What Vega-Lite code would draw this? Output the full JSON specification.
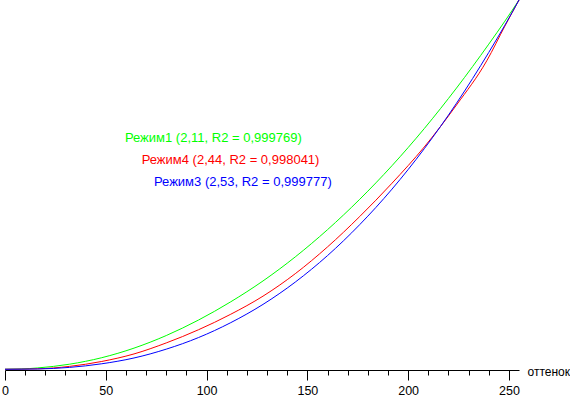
{
  "$schema": "https://vega.github.io/schema/vega-lite/v6.json",
  "autosize": "none",
  "width": 514,
  "height": 370,
  "padding": {"left": 5, "top": 0, "right": 51, "bottom": 26},
  "background": "white",
  "config": {"view": {"stroke": null}, "font": "Liberation Sans"},
  "datasets": {
    "curves": [
      {"mode": "Режим1", "tone": 0, "value": 0},
      {"mode": "Режим1", "tone": 8, "value": 0.2},
      {"mode": "Режим1", "tone": 16, "value": 0.9},
      {"mode": "Режим1", "tone": 32, "value": 3.5},
      {"mode": "Режим1", "tone": 48, "value": 8.0},
      {"mode": "Режим1", "tone": 64, "value": 14.6},
      {"mode": "Режим1", "tone": 80, "value": 23.3},
      {"mode": "Режим1", "tone": 96, "value": 34.0},
      {"mode": "Режим1", "tone": 112, "value": 46.6},
      {"mode": "Режим1", "tone": 128, "value": 61.0},
      {"mode": "Режим1", "tone": 144, "value": 77.6},
      {"mode": "Режим1", "tone": 160, "value": 96.4},
      {"mode": "Режим1", "tone": 176, "value": 117.4},
      {"mode": "Режим1", "tone": 192, "value": 140.6},
      {"mode": "Режим1", "tone": 208, "value": 166.2},
      {"mode": "Режим1", "tone": 224, "value": 194.2},
      {"mode": "Режим1", "tone": 240, "value": 224.5},
      {"mode": "Режим1", "tone": 248, "value": 240.4},
      {"mode": "Режим1", "tone": 255, "value": 255},
      {"mode": "Режим4", "tone": 0, "value": 0},
      {"mode": "Режим4", "tone": 16, "value": 0.3},
      {"mode": "Режим4", "tone": 32, "value": 2.0},
      {"mode": "Режим4", "tone": 48, "value": 5.4},
      {"mode": "Режим4", "tone": 64, "value": 10.6},
      {"mode": "Режим4", "tone": 80, "value": 18.2},
      {"mode": "Режим4", "tone": 96, "value": 27.3},
      {"mode": "Режим4", "tone": 112, "value": 38.0},
      {"mode": "Режим4", "tone": 128, "value": 50.5},
      {"mode": "Режим4", "tone": 144, "value": 66.0},
      {"mode": "Режим4", "tone": 160, "value": 84.5},
      {"mode": "Режим4", "tone": 176, "value": 105.5},
      {"mode": "Режим4", "tone": 192, "value": 128.5},
      {"mode": "Режим4", "tone": 208, "value": 153.5},
      {"mode": "Режим4", "tone": 224, "value": 182.5},
      {"mode": "Режим4", "tone": 239, "value": 213.0},
      {"mode": "Режим4", "tone": 248, "value": 237.0},
      {"mode": "Режим4", "tone": 255, "value": 255},
      {"mode": "Режим3", "tone": 0, "value": 0},
      {"mode": "Режим3", "tone": 16, "value": 0.2},
      {"mode": "Режим3", "tone": 32, "value": 1.3},
      {"mode": "Режим3", "tone": 48, "value": 3.8},
      {"mode": "Режим3", "tone": 64, "value": 7.8},
      {"mode": "Режим3", "tone": 80, "value": 13.9},
      {"mode": "Режим3", "tone": 96, "value": 21.9},
      {"mode": "Режим3", "tone": 112, "value": 32.2},
      {"mode": "Режим3", "tone": 128, "value": 44.8},
      {"mode": "Режим3", "tone": 144, "value": 60.2},
      {"mode": "Режим3", "tone": 160, "value": 78.5},
      {"mode": "Режим3", "tone": 176, "value": 99.9},
      {"mode": "Режим3", "tone": 192, "value": 124.4},
      {"mode": "Режим3", "tone": 208, "value": 152.3},
      {"mode": "Режим3", "tone": 224, "value": 183.7},
      {"mode": "Режим3", "tone": 240, "value": 218.8},
      {"mode": "Режим3", "tone": 248, "value": 237.6},
      {"mode": "Режим3", "tone": 255, "value": 255}
    ],
    "labels": [
      {"mode": "Режим1", "tone": 59.5, "value": 159.7, "text": "Режим1 (2,11, R2 = 0,999769)"},
      {"mode": "Режим4", "tone": 67.8, "value": 144.5, "text": "Режим4 (2,44, R2 = 0,998041)"},
      {"mode": "Режим3", "tone": 73.9, "value": 129.3, "text": "Режим3 (2,53, R2 = 0,999777)"}
    ]
  },
  "layer": [
    {
      "data": {"name": "curves"},
      "mark": {"type": "line", "strokeWidth": 1, "clip": false, "interpolate": "monotone"},
      "encoding": {
        "x": {
          "field": "tone", "type": "quantitative",
          "scale": {"domain": [0, 255], "nice": false, "zero": false},
          "axis": {
            "values": [0, 10, 20, 30, 40, 50, 60, 70, 80, 90, 100, 110, 120, 130, 140, 150, 160, 170, 180, 190, 200, 210, 220, 230, 240, 250],
            "tickCount": 40,
            "labelExpr": "datum.value % 50 === 0 ? datum.label : ''",
            "tickSize": {"condition": {"test": "datum.value % 50 === 0", "value": 10}, "value": 5},
            "tickColor": "black",
            "tickWidth": 1,
            "domainColor": "black",
            "domainWidth": 1,
            "grid": false,
            "labelFont": "Liberation Sans",
            "labelFontSize": 12.5,
            "labelColor": "black",
            "labelPadding": 4,
            "labelFlush": false,
            "labelOverlap": false,
            "labelBound": false,
            "title": "оттенок",
            "titleFont": "Liberation Sans",
            "titleFontSize": 12,
            "titleFontWeight": "normal",
            "titleColor": "black",
            "titleAlign": "left",
            "titleAnchor": null,
            "titleBaseline": "alphabetic",
            "titleX": 522,
            "titleY": 5.5
          }
        },
        "y": {
          "field": "value", "type": "quantitative",
          "scale": {"domain": [-0.5, 255], "nice": false, "zero": false},
          "axis": null
        },
        "color": {
          "field": "mode", "type": "nominal",
          "scale": {"domain": ["Режим1", "Режим4", "Режим3"], "range": ["#00ff00", "#ff0000", "#0000ff"]},
          "legend": null
        }
      }
    },
    {
      "data": {"name": "labels"},
      "mark": {"type": "text", "align": "left", "baseline": "middle", "font": "Liberation Sans", "fontSize": 13},
      "encoding": {
        "x": {"field": "tone", "type": "quantitative"},
        "y": {"field": "value", "type": "quantitative"},
        "text": {"field": "text"},
        "color": {"field": "mode", "type": "nominal", "legend": null}
      }
    }
  ]
}
